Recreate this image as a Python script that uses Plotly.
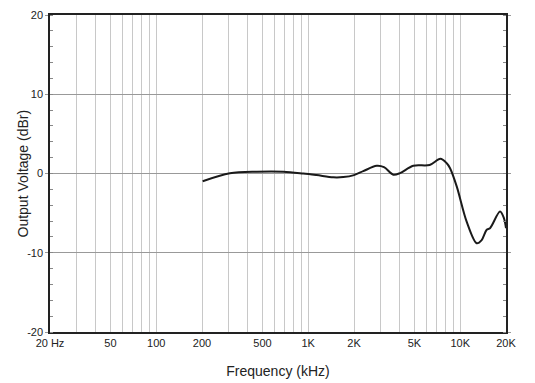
import plotly.graph_objects as go

freq_hz = [202, 305, 458, 686, 927, 1136, 1462, 1700, 2000, 2300, 2820, 3150, 3630, 4016, 4910, 6290, 7400, 8150, 8570, 9490, 11020, 12830, 13840, 14930, 15700, 18270, 19400, 20000]
level_dbr = [-0.98, 0.02, 0.23, 0.23, 0.0, -0.2, -0.48, -0.45, -0.2, 0.3, 0.97, 0.8, -0.15, 0.05, 0.98, 1.07, 1.85, 1.29, 0.66, -1.66, -6.08, -8.8, -8.4, -7.1, -6.9, -4.8, -5.65, -6.9]

grid_vals = [20, 30, 40, 50, 60, 70, 80, 90, 100, 200, 300, 400, 500, 600, 700, 800, 900,
             1000, 2000, 3000, 4000, 5000, 6000, 7000, 8000, 9000, 10000, 20000]
labeled = {20: "20 Hz", 50: "50", 100: "100", 200: "200", 500: "500", 1000: "1K",
           2000: "2K", 5000: "5K", 10000: "10K", 20000: "20K"}
tick_text = [labeled.get(v, "") for v in grid_vals]

y_ticks = [-20, -10, 0, 10, 20]
y_labels = ["-20", "-10", "0", "10", "20"]

fig = go.Figure()
fig.add_trace(go.Scatter(x=freq_hz, y=level_dbr, mode="lines",
                         line=dict(color="#1a1a1a", width=2, shape="spline", smoothing=0.9),
                         showlegend=False, hoverinfo="skip"))

fig.update_layout(
    width=527, height=375,
    margin=dict(l=42, r=29, t=7, b=51, autoexpand=False),
    paper_bgcolor="white", plot_bgcolor="white",
    font=dict(family="Liberation Sans, Arial, sans-serif", color="#222", size=11),
)
fig.add_annotation(text="Output Voltage (dBr)", textangle=-90, showarrow=False,
                   xref="paper", yref="paper", x=-0.0614, y=0.5,
                   xanchor="center", yanchor="middle",
                   font=dict(size=14, color="#222"))
fig.update_xaxes(
    type="log", range=[1.30103, 4.30103],
    tickvals=grid_vals, ticktext=tick_text, automargin=False,
    showgrid=True, gridcolor="#c8c8c8", gridwidth=1,
    showline=True, linecolor="#222", linewidth=1.5, mirror=True,
    ticks="", ticklen=0,
    title=dict(text="Frequency (kHz)", font=dict(size=14), standoff=18),
    tickfont=dict(size=11),
    zeroline=False,
)
fig.update_yaxes(
    range=[-20, 20], tickvals=y_ticks, ticktext=y_labels, automargin=False,
    showgrid=True, gridcolor="#999999", gridwidth=1,
    showline=True, linecolor="#222", linewidth=1.5, mirror="ticks",
    ticks="outside", ticklen=3, tickcolor="#999999",
    minor=dict(dtick=2, ticks="inside", ticklen=3, tickcolor="#888", showgrid=False),
    tickfont=dict(size=11),
    zeroline=False,
)

fig.write_html("out.html")
